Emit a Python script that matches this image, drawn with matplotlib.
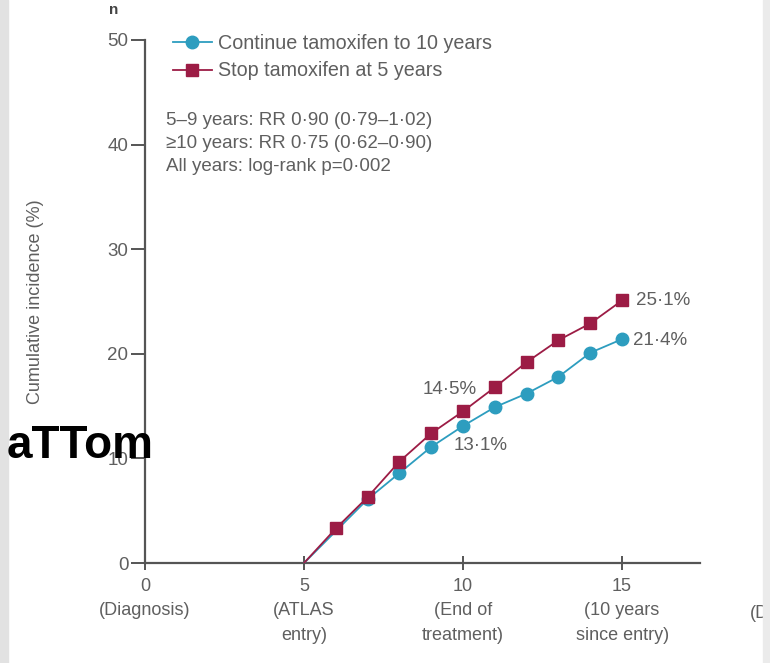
import matplotlib
matplotlib.use("Agg")
import matplotlib.pyplot as plt
from matplotlib.patches import Rectangle

# ----------------------------
# data
# ----------------------------
years_continue = [5, 7, 8, 9, 10, 11, 12, 13, 14, 15]
continue_pct = [0, 6.1, 8.6, 11.1, 13.1, 14.9, 16.2, 17.8, 20.1, 21.4]

years_stop = [5, 6, 7, 8, 9, 10, 11, 12, 13, 14, 15]
stop_pct = [0, 3.3, 6.3, 9.7, 12.4, 14.5, 16.8, 19.2, 21.3, 22.9, 25.1]

xtick_pos = [0, 5, 10, 15]
xtick_labels = ["0\n(Diagnosis)", "5\n(ATLAS\nentry)", "10\n(End of\ntreatment)",
                "15\n(10 years\nsince entry)"]
ytick_pos = [0, 10, 20, 30, 40, 50]

stats_lines = ["5\u20139 years: RR 0\u00b790 (0\u00b779\u20131\u00b702)",
               "\u226510 years: RR 0\u00b775 (0\u00b762\u20130\u00b790)",
               "All years: log-rank p=0\u00b7002"]

red = "#9c1c45"
blue = "#2d9dbf"
grey = "#5f5f5f"
fs = 13.5

plt.rcParams['font.family'] = ['Liberation Sans', 'DejaVu Sans']

fig = plt.figure(figsize=(7.7, 6.63), dpi=100)
ax = fig.add_axes([145 / 770, 100 / 663, 555 / 770, 523 / 663])

ax.plot(years_continue, continue_pct, color=blue, lw=1.3, marker="o", ms=9,
        markevery=list(range(1, len(years_continue))), label="Continue tamoxifen to 10 years",
        zorder=3)
ax.plot(years_stop, stop_pct, color=red, lw=1.3, marker="s", ms=8.5,
        markevery=list(range(1, len(years_stop))), label="Stop tamoxifen at 5 years",
        zorder=4)

ax.set_xlim(0, 17.45)
ax.set_ylim(0, 50)
ax.set_xticks(xtick_pos)
ax.set_xticklabels(xtick_labels, multialignment="center", linespacing=1.55)
ax.set_yticks(ytick_pos)

for s in ["top", "right"]:
    ax.spines[s].set_visible(False)
for s in ["left", "bottom"]:
    ax.spines[s].set_color("#555555")
    ax.spines[s].set_linewidth(1.6)

ax.tick_params(axis="x", direction="inout", length=10, width=1.4, colors="#555555",
               labelcolor=grey, labelsize=fs - 0.5, pad=6)
ax.tick_params(axis="y", direction="out", length=10, width=1.4, colors="#555555",
               labelcolor=grey, labelsize=fs, pad=2)

ax.set_ylabel("Cumulative incidence (%)", color=grey, fontsize=fs - 0.5)
ax.yaxis.set_label_coords(-0.182, 0.5)

# clipped label for the tick beyond the right edge
ax.text(19.02, -4.8, "(D", ha="left", va="center", color=grey, fontsize=fs - 0.5,
        clip_on=False)

leg = ax.legend(loc="upper left", bbox_to_anchor=(0.018, 1.045), frameon=False,
                fontsize=fs + 0.7, handlelength=2.0, labelspacing=0.42, handletextpad=0.3,
                labelcolor=grey)

ax.text(0.038, 0.862, "\n".join(stats_lines), transform=ax.transAxes, ha="left",
        va="top", fontsize=fs, color=grey, linespacing=1.45)

# end-point labels
ax.annotate("14\u00b75%", (10, 14.5), xytext=(10, 16), textcoords="offset points",
            ha="right", va="center", fontsize=fs, color=grey)
ax.annotate("13\u00b71%", (10, 13.1), xytext=(-7, -14), textcoords="offset points",
            ha="left", va="center", fontsize=fs, color=grey)
ax.annotate("25\u00b71%", (15, 25.1), xytext=(10, 0), textcoords="offset points",
            ha="left", va="center", fontsize=fs, color=grey)
ax.annotate("21\u00b74%", (15, 21.4), xytext=(8, -1), textcoords="offset points",
            ha="left", va="center", fontsize=fs, color=grey)

# overlay text and screenshot edges
fig.text(7 / 770, 1 - 458 / 663, "aTTom", fontsize=33, fontweight="bold",
         color="black", ha="left", va="baseline", family="Liberation Sans", zorder=6)
fig.text(114 / 770, 1 - 14 / 663, "n", fontsize=11, fontweight="bold", color="#444444",
         ha="center", va="baseline")
fig.add_artist(Rectangle((0, 0), 8 / 770, 1, transform=fig.transFigure,
                         color="#e2e2e2", zorder=5))
fig.add_artist(Rectangle((763 / 770, 0), 7 / 770, 1, transform=fig.transFigure,
                         color="#ebebeb", zorder=5))

fig.savefig("out.png", dpi=100)
